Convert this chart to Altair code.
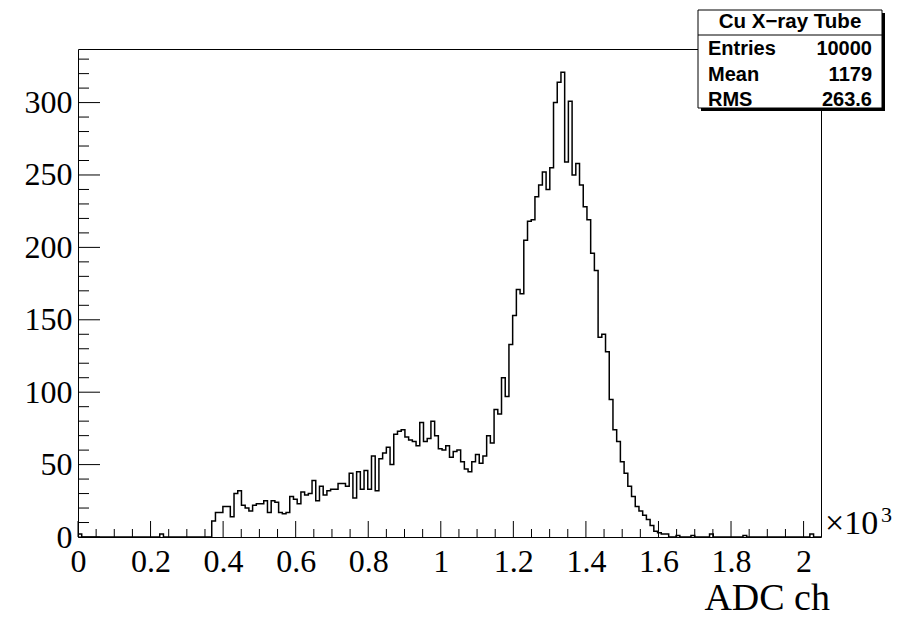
import altair as alt
import pandas as pd

# ---------------- data ----------------
X_MIN, X_MAX, N_BINS = 0, 2048, 200

counts = [
    2, 0, 0, 0, 0, 0, 0, 0, 0, 0,            # 0-9
    0, 0, 0, 0, 0, 0, 0, 0, 0, 0,            # 10-19
    0, 0, 2, 0, 0, 0, 0, 0, 0, 0,            # 20-29
    0, 0, 0, 0, 0, 0, 11, 17, 17, 21,        # 30-39
    21, 14, 30, 32, 22, 20, 18, 22, 23, 23,  # 40-49
    25, 17, 25, 24, 17, 16, 17, 28, 26, 23,  # 50-59
    31, 29, 30, 39, 25, 35, 29, 32, 33, 33,  # 60-69
    37, 37, 35, 44, 27, 45, 33, 46, 33, 56,  # 70-79
    32, 54, 58, 62, 50, 71, 73, 74, 69, 67,  # 80-89
    66, 63, 79, 66, 68, 80, 70, 61, 60, 63,  # 90-99
    55, 59, 60, 52, 47, 45, 52, 57, 51, 56,  # 100-109
    70, 65, 88, 85, 110, 97, 133, 153, 171, 168,      # 110-119
    205, 218, 219, 235, 243, 252, 240, 255, 300, 314,  # 120-129
    321, 259, 301, 250, 258, 243, 228, 219, 196, 184,  # 130-139
    138, 140, 128, 95, 74, 66, 52, 44, 35, 28,         # 140-149
    21, 18, 15, 12, 8, 4, 3, 2, 2, 0,        # 150-159
    0, 1, 0, 0, 0, 1, 0, 0, 0, 0,            # 160-169
    2, 0, 0, 0, 0, 0, 0, 0, 0, 1,            # 170-179
    0, 0, 0, 0, 0, 0, 0, 0, 0, 0,            # 180-189
    0, 0, 0, 0, 0, 0, 0, 2, 0, 0,            # 190-199
]

y_major = [0, 50, 100, 150, 200, 250, 300]
y_minor = [v for v in range(10, 340, 10) if v % 50]
x_major = list(range(0, 2001, 200))
x_minor = [v for v in range(50, 2048, 50) if v % 200]

stats_title = "Cu X\u2212ray Tube"
stats_labels = ["Entries", "Mean", "RMS"]
stats_values = ["10000", "1179", "263.6"]
x_title = "ADC ch"
x_exp_base = "\u00d710"
x_exp_power = "3"

# ---------------- table ----------------
bw = (X_MAX - X_MIN) / N_BINS
edges = [X_MIN + i * bw for i in range(N_BINS)] + [X_MAX]
hist_df = pd.DataFrame({"x": edges, "y": counts + [counts[-1]]})

W, H = 743, 488
Y_TOP = 337
xscale = alt.Scale(domain=[X_MIN, X_MAX], nice=False, zero=False)
yscale = alt.Scale(domain=[0, Y_TOP], nice=False, zero=True)

SERIF = "Liberation Serif"
SANS = "Liberation Sans"

x_axis = alt.Axis(values=x_major, labelExpr="format(datum.value / 1000, '.1~f')",
                  ticks=False, tickSize=0, domain=False, grid=False,
                  labelFont=SERIF, labelFontSize=32, labelColor="black",
                  labelPadding=9, labelFlush=False, labelOverlap=False, title=None)
y_axis = alt.Axis(values=y_major, ticks=False, tickSize=0, domain=False, grid=False,
                  labelFont=SERIF, labelFontSize=32, labelColor="black",
                  labelPadding=6, labelFlush=False, labelOverlap=False, title=None)

hist = alt.Chart(hist_df).mark_line(interpolate="step-after", color="black",
                                    strokeWidth=1.5).encode(
    x=alt.X("x:Q", scale=xscale, axis=x_axis),
    y=alt.Y("y:Q", scale=yscale, axis=y_axis),
)

def yticks(vals, length):
    return alt.Chart(pd.DataFrame({"y": vals})).mark_rule(color="black", strokeWidth=1).encode(
        y=alt.Y("y:Q", scale=yscale, axis=y_axis), x=alt.value(0), x2=alt.value(length))

def xticks(vals, length):
    return alt.Chart(pd.DataFrame({"x": vals})).mark_rule(color="black", strokeWidth=1).encode(
        x=alt.X("x:Q", scale=xscale, axis=x_axis), y=alt.value(H), y2=alt.value(H - length))

one = pd.DataFrame({"k": [0]})

# stats box (page coords minus plot origin 78,49)
BX0, BX1, BY0, BY1 = 620, 804, -39, 59
shadow = alt.Chart(one).mark_rect(fill="black").encode(
    x=alt.value(BX0 + 3), x2=alt.value(BX1 + 3), y=alt.value(BY0 + 3), y2=alt.value(BY1 + 3))
box = alt.Chart(one).mark_rect(fill="white", stroke="black", strokeWidth=1).encode(
    x=alt.value(BX0), x2=alt.value(BX1), y=alt.value(BY0), y2=alt.value(BY1))
divider = alt.Chart(one).mark_rule(color="black", strokeWidth=1).encode(
    x=alt.value(BX0), x2=alt.value(BX1), y=alt.value(-14))

layers = [hist,
          yticks(y_major, 22), yticks(y_minor, 11),
          xticks(x_major, 16), xticks(x_minor, 8),
          shadow, box, divider]

layers.append(alt.Chart(pd.DataFrame({"t": [stats_title]})).mark_text(
    font=SANS, fontWeight="bold", fontSize=20.5, align="center", baseline="alphabetic",
    color="black").encode(text="t:N", x=alt.value((BX0 + BX1) / 2), y=alt.value(-21)))

row_y = [6, 32, 57]
for lab, val, yy in zip(stats_labels, stats_values, row_y):
    d = pd.DataFrame({"lab": [lab], "val": [val]})
    layers.append(alt.Chart(d).mark_text(font=SANS, fontWeight="bold", fontSize=20,
                                         align="left", baseline="alphabetic", color="black")
                  .encode(text="lab:N", x=alt.value(BX0 + 10), y=alt.value(yy)))
    layers.append(alt.Chart(d).mark_text(font=SANS, fontWeight="bold", fontSize=20,
                                         align="right", baseline="alphabetic", color="black")
                  .encode(text="val:N", x=alt.value(BX1 - 10), y=alt.value(yy)))

layers.append(alt.Chart(pd.DataFrame({"t": [x_title]})).mark_text(
    font=SERIF, fontSize=38, align="right", baseline="alphabetic", color="black").encode(
    text="t:N", x=alt.value(752), y=alt.value(561)))
layers.append(alt.Chart(pd.DataFrame({"t": [x_exp_base]})).mark_text(
    font=SERIF, fontSize=34, align="left", baseline="alphabetic", color="black").encode(
    text="t:N", x=alt.value(747), y=alt.value(485)))
layers.append(alt.Chart(pd.DataFrame({"t": [x_exp_power]})).mark_text(
    font=SERIF, fontSize=22, align="left", baseline="alphabetic", color="black").encode(
    text="t:N", x=alt.value(803), y=alt.value(473)))

chart = alt.layer(*layers).properties(
    width=W, height=H,
    padding={"left": 70, "top": 41, "right": 75, "bottom": 83},
    autosize=alt.AutoSizeParams(type="none"),
    background="white",
).configure_view(stroke="black", strokeWidth=1)

chart.save("out.html", embed_options={"renderer": "svg", "actions": False})
